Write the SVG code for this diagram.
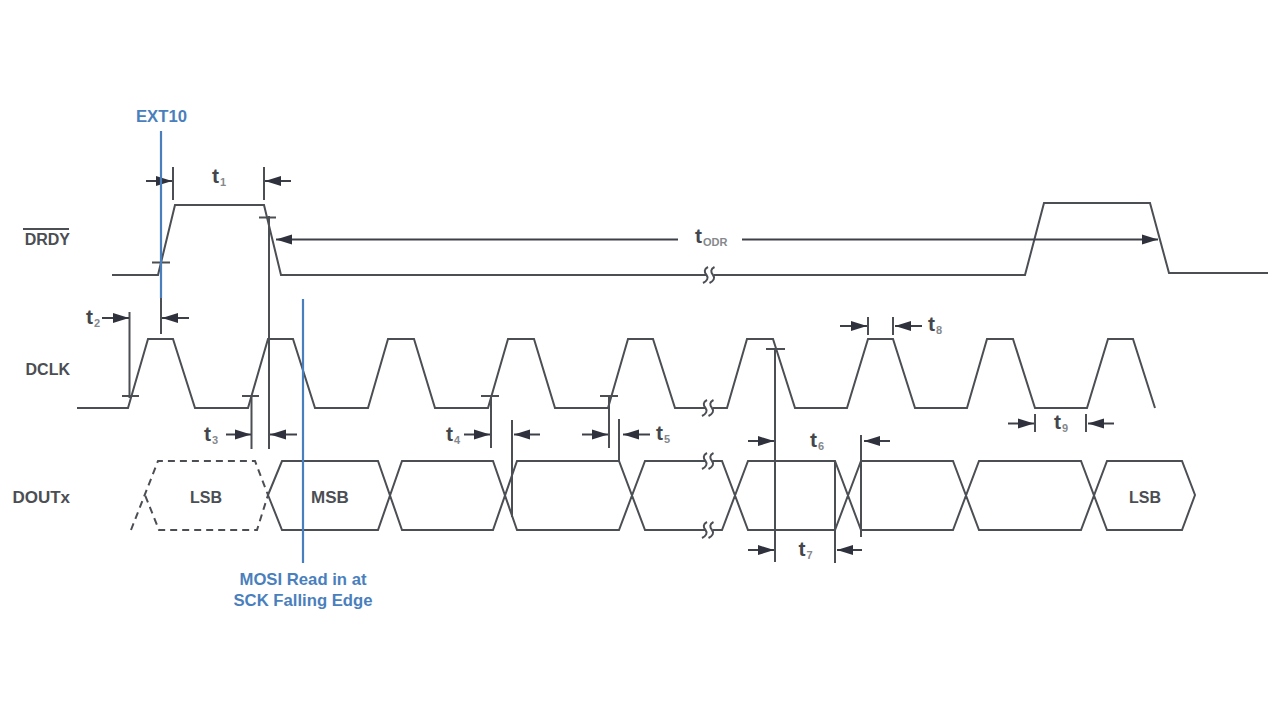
<svg xmlns="http://www.w3.org/2000/svg" xmlns:xlink="http://www.w3.org/1999/xlink" width="1280" height="720" viewBox="0 0 1280 720">
<style>
text{font-family:"Liberation Sans",Arial,sans-serif;font-weight:700;fill:#4b4e53}
.lab{font-size:16px}
.blue{font-size:16.700px;fill:#4a7fbd;text-anchor:middle}
.t{font-size:21px;fill:#43464c}
.s{font-size:11px;fill:#85888c}
.w{fill:none;stroke:#4b4e53;stroke-width:2;stroke-linejoin:miter}
.d{fill:none;stroke:#4b4e53;stroke-width:2;stroke-dasharray:7 5}
.v{stroke:#4b4e53;stroke-width:2;fill:none}
.a{stroke:#3d4048;stroke-width:2;fill:none;marker-end:url(#head)}
.b{stroke:#4a7fbd;stroke-width:2.200;fill:none}
</style>
<defs>
<marker id="head" markerUnits="userSpaceOnUse" markerWidth="16" markerHeight="12" viewBox="0 0 16 12" refX="16" refY="6" orient="auto"><path d="M0,1 L16,6 L0,11 Z" fill="#2f323c"/></marker>
<g id="brk" class="w" style="stroke-width:2"><path d="M0,-8 C-4,-6 -4,-3 -1.500,0 C1,3 -1,6 -5,8"/><path d="M6.500,-8 C2.500,-6 2.500,-3 5,0 C7.500,3 5.500,6 1.500,8"/></g>
</defs>
<rect width="1280" height="720" fill="#ffffff"/>

<g id="drdy">
<text class="lab" x="70" y="244.500" text-anchor="end">DRDY</text>
<line class="v" x1="23" y1="229" x2="69" y2="229"/>
<path class="w" d="M112,275 H158 L175,205 H264 L281,275 H707 M714,275 H1025 L1044,203 H1150 L1169,273 H1268"/>
<use xlink:href="#brk" href="#brk" x="708" y="275"/>
</g>

<g id="dclk">
<text class="lab" x="70" y="375" text-anchor="end">DCLK</text>
<path class="w" d="M77,408 H128 L148,339 H173 L195,408 H248 L268,339 H293 L315,408 H368 L388,339 H414 L435,408 H488 L508,339 H534 L555,408 H608 L628,339 H653 L675,408 H706 M713,408 H727 L747,339 H773 L795,408 H847 L868,339 H893 L915,408 H967 L987,339 H1013 L1035,408 H1087 L1108,339 H1133 L1155,408"/>
<use xlink:href="#brk" href="#brk" x="707" y="408"/>
</g>

<g id="doutx">
<text class="lab" x="70" y="503" text-anchor="end" style="font-size:17px">DOUTx</text>
<path class="d" d="M131,530 L158,461 H255 L268,495 L257,530 H159 L145,495"/>
<path class="w" d="M268,495 L282,461 H378 L402,530 H493 L517,461 H619 L645,530 H706 M713,530 H722 L748,461 H835 L861,530 H953 L979,461 H1081 L1107,530 H1182 L1195,495 L1182,461 H1107 L1081,530 H979 L953,461 H861 L835,530 H748 L722,461 H713 M706,461 H645 L619,530 H517 L493,461 H402 L378,530 H282 L268,495"/>
<use xlink:href="#brk" href="#brk" x="707" y="461"/>
<use xlink:href="#brk" href="#brk" x="707" y="530"/>
<text class="lab" x="206" y="503" text-anchor="middle">LSB</text>
<text class="lab" x="330" y="503" text-anchor="middle" style="font-size:17px">MSB</text>
<text class="lab" x="1145" y="503" text-anchor="middle">LSB</text>
</g>

<g id="connectors">
<path class="v" d="M161,298 V334 M173,167 V200 M264,167 V200 M269,216 V449 M259,217.500 H276 M152,262.500 H170 M129.500,312 V398 M122,396 H139 M251.500,396 V449 M242,396 H259 M491,396 V448 M481,396 H499 M512,420 V517 M609,396 V448 M600,396 H618 M619,419 V461 M775,349 V562 M766,349 H785 M861,435 V537 M835,461 V563 M868,317 V335 M893,317 V335 M1035,414 V432 M1086,414 V432"/>
<line class="a" x1="146" y1="181" x2="172" y2="181"/>
<line class="a" x1="291" y1="181" x2="265" y2="181"/>
<line class="a" x1="102" y1="318" x2="129" y2="318"/>
<line class="a" x1="189" y1="318" x2="162" y2="318"/>
<line class="a" x1="226" y1="434.500" x2="251" y2="434.500"/>
<line class="a" x1="297" y1="434.500" x2="270" y2="434.500"/>
<line class="a" x1="464" y1="434.500" x2="490" y2="434.500"/>
<line class="a" x1="540" y1="434.500" x2="514" y2="434.500"/>
<line class="a" x1="582" y1="434.500" x2="608" y2="434.500"/>
<line class="a" x1="650" y1="434.500" x2="623" y2="434.500"/>
<line class="a" x1="748" y1="441" x2="774" y2="441"/>
<line class="a" x1="890" y1="441" x2="864" y2="441"/>
<line class="a" x1="748" y1="550" x2="774" y2="550"/>
<line class="a" x1="862" y1="550" x2="837" y2="550"/>
<line class="a" x1="840" y1="326" x2="867" y2="326"/>
<line class="a" x1="922" y1="326" x2="895" y2="326"/>
<line class="a" x1="1008" y1="423.500" x2="1034" y2="423.500"/>
<line class="a" x1="1114" y1="423.500" x2="1088" y2="423.500"/>
<line class="a" x1="678" y1="239.500" x2="276" y2="239.500"/>
<line class="a" x1="742" y1="239.500" x2="1158" y2="239.500"/>
<line class="b" x1="161" y1="131" x2="161" y2="298"/>
<line class="b" x1="303" y1="299" x2="303" y2="563"/>
</g>

<g id="timing-labels">
<text class="t" x="212" y="183">t<tspan class="s" x="220" dy="3">1</tspan></text>
<text class="t" x="86" y="324">t<tspan class="s" x="94" dy="3">2</tspan></text>
<text class="t" x="204" y="440.500">t<tspan class="s" x="212" dy="3">3</tspan></text>
<text class="t" x="446" y="440.500">t<tspan class="s" x="454" dy="3">4</tspan></text>
<text class="t" x="656" y="440">t<tspan class="s" x="664" dy="3">5</tspan></text>
<text class="t" x="810" y="447">t<tspan class="s" x="818" dy="3">6</tspan></text>
<text class="t" x="798.500" y="556">t<tspan class="s" x="806.500" dy="3">7</tspan></text>
<text class="t" x="928" y="331">t<tspan class="s" x="936" dy="3">8</tspan></text>
<text class="t" x="1054" y="429">t<tspan class="s" x="1062" dy="3">9</tspan></text>
<text class="t" x="695" y="243">t<tspan class="s" x="703" dy="3">ODR</tspan></text>
</g>

<g id="ext10"><text class="blue" x="161.500" y="122">EXT10</text></g>
<g id="mosi"><text class="blue" x="303" y="585">MOSI Read in at</text><text class="blue" x="303" y="605.500">SCK Falling Edge</text></g>
</svg>
